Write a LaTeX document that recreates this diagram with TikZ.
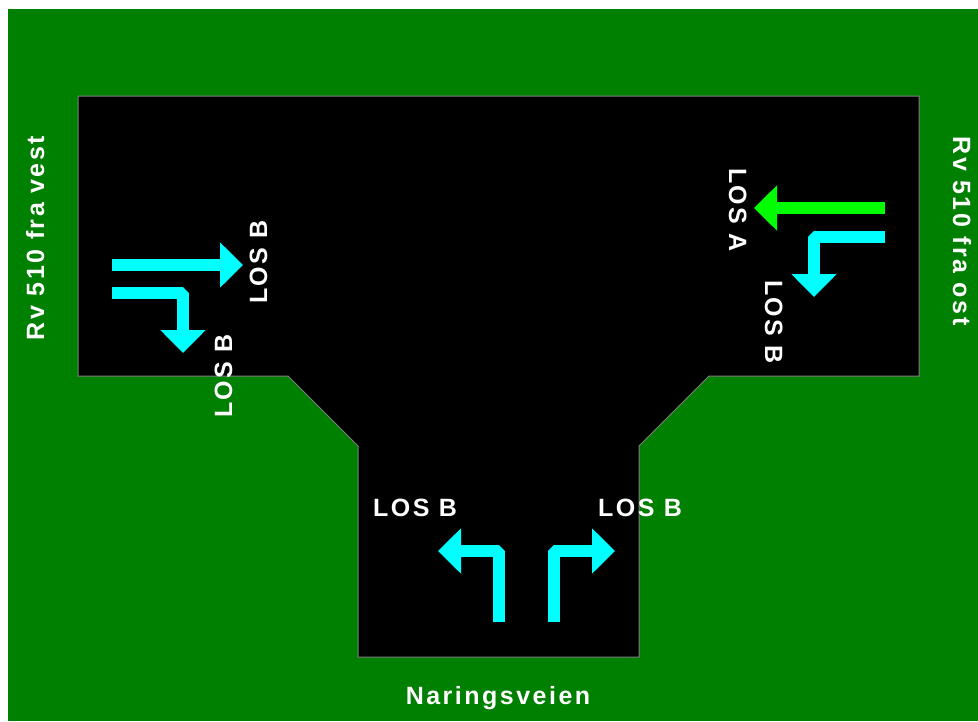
\documentclass[tikz,border=0pt]{standalone}
\usepackage{fontspec}
\setmainfont{Liberation Sans}
\newfontfamily\signfont{Liberation Sans Bold}[LetterSpace=10]
\usepackage{tikz}
\usetikzlibrary{arrows.meta}
\definecolor{grass}{HTML}{008000}
\definecolor{lanecyan}{HTML}{00FFFF}
\definecolor{lanegreen}{HTML}{00FF00}
\definecolor{edgegray}{HTML}{808080}
\tikzset{
  lane/.style={
    line width=12pt, line join=bevel, color=lanecyan,
    -{Triangle[length=23pt,width=44pt]}
  },
  loslabel/.style={
    text=white, inner sep=0pt, anchor=base,
    font=\signfont\fontsize{25}{30}\selectfont
  },
}

\begin{document}
\begin{tikzpicture}[x=1pt,y=-1pt]
  \useasboundingbox (0,0) rectangle (978,721);
  \fill[grass] (8,9) rectangle (978,721);
  % junction area
  \draw[edgegray, fill=black, line width=1pt]
    (78,96) -- (919,96) -- (919,376) -- (709,376) -- (639,446)
    -- (639,657) -- (358,657) -- (358,446) -- (288,376) -- (78,376) -- cycle;

  % lane arrows
  \coordinate (vthru0) at (112,265);
  \coordinate (vthru1) at (243,265);
  \coordinate (vright0) at (112,293);
  \coordinate (vright1) at (183,293);
  \coordinate (vright2) at (183,353);
  \coordinate (othru0) at (885,208);
  \coordinate (othru1) at (754,208);
  \coordinate (oleft0) at (885,237);
  \coordinate (oleft1) at (814,237);
  \coordinate (oleft2) at (814,297);
  \coordinate (nleft0) at (499,622);
  \coordinate (nleft1) at (499,551);
  \coordinate (nleft2) at (438,551);
  \coordinate (nright0) at (554,622);
  \coordinate (nright1) at (554,551);
  \coordinate (nright2) at (615,551);

  \draw[lane] (vthru0) -- (vthru1);
  \draw[lane] (vright0) -- (vright1) -- (vright2);
  \draw[lane, color=lanegreen] (othru0) -- (othru1);
  \draw[lane] (oleft0) -- (oleft1) -- (oleft2);
  \foreach \a in {nleft,nright}
    \draw[lane] (\a0) -- (\a1) -- (\a2);

  % level of service
  \node[loslabel, rotate=90] (losvthru) at (267,262) {LOS B};
  \node[loslabel, rotate=90] (losvright) at (232,376) {LOS B};
  \node[loslabel, rotate=-90] (losothru) at (729,210) {LOS A};
  \node[loslabel, rotate=-90] (losoleft) at (765,322) {LOS B};
  \node[loslabel] (losnleft) at (415,516) {LOS B};
  \node[loslabel] (losnright) at (640,516) {LOS B};

  % roads
  \node[loslabel, rotate=90] (vest) at (44,238) {Rv 510 fra vest};
  \node[loslabel, rotate=-90] (ost) at (953,231) {Rv 510 fra ost};
  \node[loslabel] (naring) at (498,704) {Naringsveien};
\end{tikzpicture}
\end{document}
